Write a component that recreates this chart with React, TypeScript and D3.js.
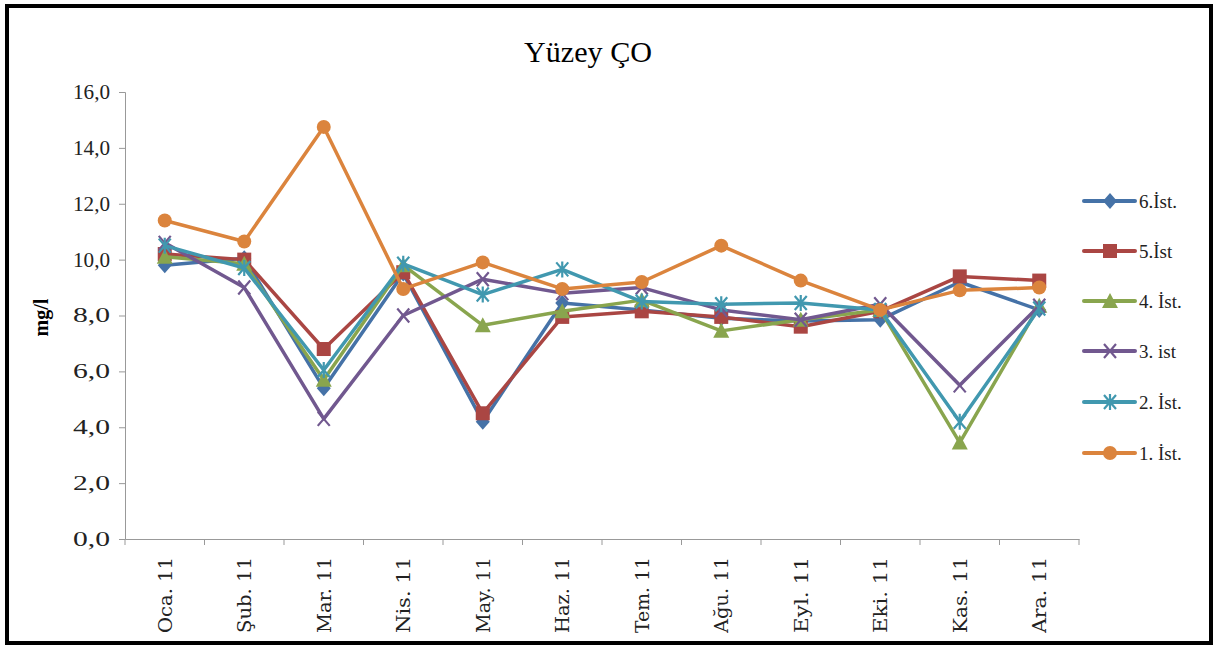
import React, { useEffect, useRef } from 'react';
import * as d3 from 'd3';

const months = ['Oca.11', 'Şub.11', 'Mar.11', 'Nis.11', 'May.11', 'Haz.11', 'Tem.11', 'Ağu.11', 'Eyl.11', 'Eki.11', 'Kas.11', 'Ara.11'];
const yTicks = [0, 2, 4, 6, 8, 10, 12, 14, 16];

const ist6 = [9.8, 10.05, 5.4, 9.5, 4.2, 8.45, 8.2, 7.9, 7.8, 7.85, 9.2, 8.2];
const ist5 = [10.2, 10.0, 6.8, 9.55, 4.5, 7.95, 8.15, 7.95, 7.6, 8.15, 9.4, 9.25];
const ist4 = [10.1, 9.85, 5.7, 9.8, 7.65, 8.15, 8.55, 7.45, 7.85, 8.2, 3.45, 8.35];
const ist3 = [10.6, 9.0, 4.3, 8.0, 9.3, 8.8, 9.0, 8.2, 7.85, 8.4, 5.5, 8.35];
const ist2 = [10.5, 9.7, 6.05, 9.85, 8.75, 9.65, 8.5, 8.4, 8.45, 8.2, 4.2, 8.25];
const ist1 = [11.4, 10.65, 14.75, 8.95, 9.9, 8.95, 9.2, 10.5, 9.25, 8.2, 8.9, 9.0];

const seriesNames = ['6.İst.', '5.İst', '4. İst.', '3. ist', '2. İst.', '1. İst.'];
const seriesColors = ['#4572A7', '#AA4643', '#89A54E', '#71588F', '#4198AF', '#DB843D'];
const seriesMarkers = ['diamond', 'square', 'triangle', 'x', 'star', 'circle'];

function App() {
    const ref = useRef<SVGSVGElement | null>(null);

    useEffect(() => {
        if (!ref.current) return;
        const W = 1223, H = 648;
        const svg = d3.select(ref.current);
        svg.selectAll('*').remove();

        const font = '"Liberation Serif", "DejaVu Serif", serif';
        const slab = '"DejaVu Serif", "Liberation Serif", serif';

        svg.append('rect').attr('width', W).attr('height', H).attr('fill', '#fff');
        // outer frame
        svg.append('rect')
            .attr('x', 7).attr('y', 6).attr('width', 1204).attr('height', 637)
            .attr('fill', 'none').attr('stroke', '#000').attr('stroke-width', 4);

        const left = 125, right = 1079, top = 92, bottom = 539;

        const x = d3.scaleBand<string>().domain(months).range([left, right]);
        const y = d3.scaleLinear().domain([0, 16]).range([bottom, top]);

        // title
        svg.append('text')
            .attr('x', 588).attr('y', 62)
            .attr('text-anchor', 'middle')
            .attr('font-family', font).attr('font-size', 30)
            .attr('textLength', 128).attr('lengthAdjust', 'spacingAndGlyphs')
            .text('Yüzey ÇO');

        // y axis
        const yAxis = svg.append('g')
            .attr('transform', `translate(${left},0)`)
            .call(d3.axisLeft(y).tickValues(yTicks).tickSize(6).tickPadding(9)
                .tickFormat(d => d3.format('.1f')(d as number).replace('.', ',')));
        yAxis.attr('font-family', font).attr('font-size', 20);
        yAxis.select('.domain').attr('stroke', '#999');
        yAxis.selectAll('.tick line').attr('stroke', '#999');
        yAxis.selectAll('.tick text')
            .attr('fill', '#222')
            .attr('textLength', 37).attr('lengthAdjust', 'spacingAndGlyphs');

        // x axis
        const xAxis = svg.append('g')
            .attr('transform', `translate(0,${bottom})`)
            .call(d3.axisBottom(x).tickSize(0).tickFormat(() => ''));
        xAxis.select('.domain').attr('stroke', '#999');
        xAxis.selectAll('.tick text').remove();
        // tick marks between categories
        const bounds = d3.range(months.length + 1).map(i => left + i * x.bandwidth());
        svg.append('g').selectAll('line').data(bounds).enter().append('line')
            .attr('x1', d => d).attr('x2', d => d)
            .attr('y1', bottom).attr('y2', bottom + 6)
            .attr('stroke', '#999');
        svg.append('g').selectAll('text').data(months).enter().append('text')
            .attr('transform', d => `translate(${(x(d) ?? 0) + x.bandwidth() / 2 + 7},${bottom + 18}) rotate(-90)`)
            .attr('text-anchor', 'end')
            .attr('font-family', slab).attr('font-size', 18).attr('fill', '#222')
            .attr('textLength', 76).attr('lengthAdjust', 'spacingAndGlyphs')
            .text(d => d.replace('.', '. '));

        // y label
        svg.append('text')
            .attr('transform', `translate(48,${(top + bottom) / 2 + 2}) rotate(-90)`)
            .attr('text-anchor', 'middle')
            .attr('font-family', font).attr('font-size', 20).attr('font-weight', 'bold')
            .text('mg/l');

        const cx = (i: number) => (x(months[i]) ?? 0) + x.bandwidth() / 2;

        const drawMarker = (g: d3.Selection<SVGGElement, unknown, null, undefined>, kind: string, px: number, py: number, color: string) => {
            if (kind === 'diamond') {
                g.append('path').attr('d', `M${px},${py - 8}L${px + 7},${py}L${px},${py + 8}L${px - 7},${py}Z`).attr('fill', color);
            } else if (kind === 'square') {
                g.append('rect').attr('x', px - 7).attr('y', py - 7).attr('width', 14).attr('height', 14).attr('fill', color);
            } else if (kind === 'triangle') {
                g.append('path').attr('d', `M${px},${py - 8}L${px + 8},${py + 7}L${px - 8},${py + 7}Z`).attr('fill', color);
            } else if (kind === 'x') {
                g.append('path').attr('d', `M${px - 6},${py - 7}L${px + 6},${py + 7}M${px + 6},${py - 7}L${px - 6},${py + 7}`)
                    .attr('stroke', color).attr('stroke-width', 2.2).attr('fill', 'none');
            } else if (kind === 'star') {
                g.append('path').attr('d', `M${px - 6},${py - 7}L${px + 6},${py + 7}M${px + 6},${py - 7}L${px - 6},${py + 7}M${px},${py - 8}L${px},${py + 8}`)
                    .attr('stroke', color).attr('stroke-width', 2.2).attr('fill', 'none');
            } else {
                g.append('circle').attr('cx', px).attr('cy', py).attr('r', 7).attr('fill', color);
            }
        };

        const allSeries = [ist6, ist5, ist4, ist3, ist2, ist1];
        const line = d3.line<number>().x((d, i) => cx(i)).y(d => y(d));

        allSeries.forEach((vals, si) => {
            const color = seriesColors[si];
            const g = svg.append('g');
            g.append('path').datum(vals).attr('d', line)
                .attr('fill', 'none').attr('stroke', color).attr('stroke-width', 3.5)
                .attr('stroke-linejoin', 'round');
            vals.forEach((v, i) => drawMarker(g, seriesMarkers[si], cx(i), y(v), color));
        });

        // legend
        const legendRows = [201, 251, 301, 351, 402, 453];
        seriesNames.forEach((name, si) => {
            const g = svg.append('g');
            const ly = legendRows[si];
            g.append('line').attr('x1', 1084).attr('x2', 1135).attr('y1', ly).attr('y2', ly)
                .attr('stroke', seriesColors[si]).attr('stroke-width', 4).attr('stroke-linecap', 'round');
            drawMarker(g, seriesMarkers[si], 1110, ly, seriesColors[si]);
            g.append('text').attr('x', 1139).attr('y', ly + 7)
                .attr('font-family', font).attr('font-size', 19).attr('fill', '#222')
                .text(name);
        });
    }, []);

    return (
        <svg ref={ref} width={1223} height={648}
            style={{ position: 'absolute', left: 0, top: 0, display: 'block' }} />
    );
}

export default App;
